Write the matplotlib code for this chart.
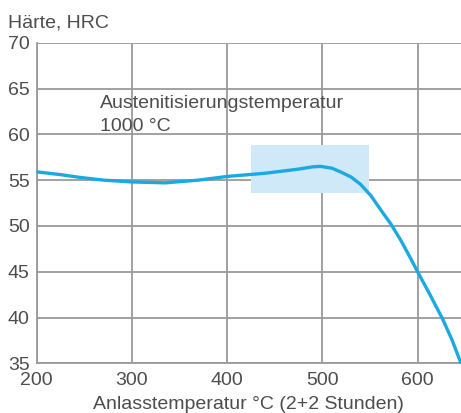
import matplotlib
matplotlib.use("Agg")
import matplotlib.pyplot as plt
from matplotlib.patches import Rectangle

# Tempering curve: hardness vs. tempering temperature
temp_c = [200, 225, 245, 270, 300, 335, 370, 400, 440, 475, 490, 498, 510,
          519, 530, 540, 551, 561, 572, 582, 593, 600, 613, 626, 636, 645.6]
hardness_hrc = [55.9, 55.6, 55.3, 55.0, 54.8, 54.7, 55.0, 55.4, 55.75, 56.2,
                56.45, 56.5, 56.3, 55.9, 55.35, 54.55, 53.3, 51.8, 50.2, 48.5,
                46.4, 45.0, 42.5, 39.9, 37.6, 35.0]

# Highlighted working range
range_temp = [425, 549]
range_hrc = [53.6, 58.8]

x_ticks = [200, 300, 400, 500, 600]
y_ticks = [35, 40, 45, 50, 55, 60, 65, 70]

text_color = "#4d4d4d"
grid_color = "#9a9a9a"
curve_color = "#1ba9e1"
box_color = "#cfe9f9"

plt.rcParams["font.family"] = ["Liberation Sans", "DejaVu Sans"]
plt.rcParams["font.size"] = 14

fig = plt.figure(figsize=(4.61, 4.13), dpi=100)
ax = fig.add_axes([0.0796, 0.1203, 0.9204, 0.7763])

ax.set_xlim(200, 645.6)
ax.set_ylim(35, 70)
ax.set_xticks(x_ticks)
ax.set_yticks(y_ticks)
ax.grid(True, color=grid_color, linewidth=1.3)
ax.set_axisbelow(True)

ax.add_patch(Rectangle((range_temp[0], range_hrc[0]),
                       range_temp[1] - range_temp[0],
                       range_hrc[1] - range_hrc[0],
                       facecolor=box_color, edgecolor="none", zorder=1))

ax.plot(temp_c, hardness_hrc, color=curve_color, linewidth=2.4,
        solid_joinstyle="round", solid_capstyle="butt", zorder=3,
        clip_on=False)

for side in ("top", "right"):
    ax.spines[side].set_visible(False)
for side in ("left", "bottom"):
    ax.spines[side].set_color(grid_color)
    ax.spines[side].set_linewidth(1.3)

ax.tick_params(axis="both", length=0, colors=text_color, labelsize=14)
ax.tick_params(axis="y", pad=5)
ax.tick_params(axis="x", pad=6)

ax.text(266.5, 62.9, "Austenitisierungstemperatur", color=text_color,
        fontsize=14, ha="left", va="baseline")
ax.text(266.5, 60.4, "1000 °C", color=text_color,
        fontsize=14, ha="left", va="baseline")

fig.text(8 / 461, 1 - 27 / 413, "Härte, HRC", color=text_color, fontsize=14,
         ha="left", va="baseline")
fig.text(248 / 461, 1 - 409 / 413, "Anlasstemperatur °C (2+2 Stunden)",
         color=text_color, fontsize=14, ha="center", va="baseline")

fig.savefig("out.png", dpi=100)
